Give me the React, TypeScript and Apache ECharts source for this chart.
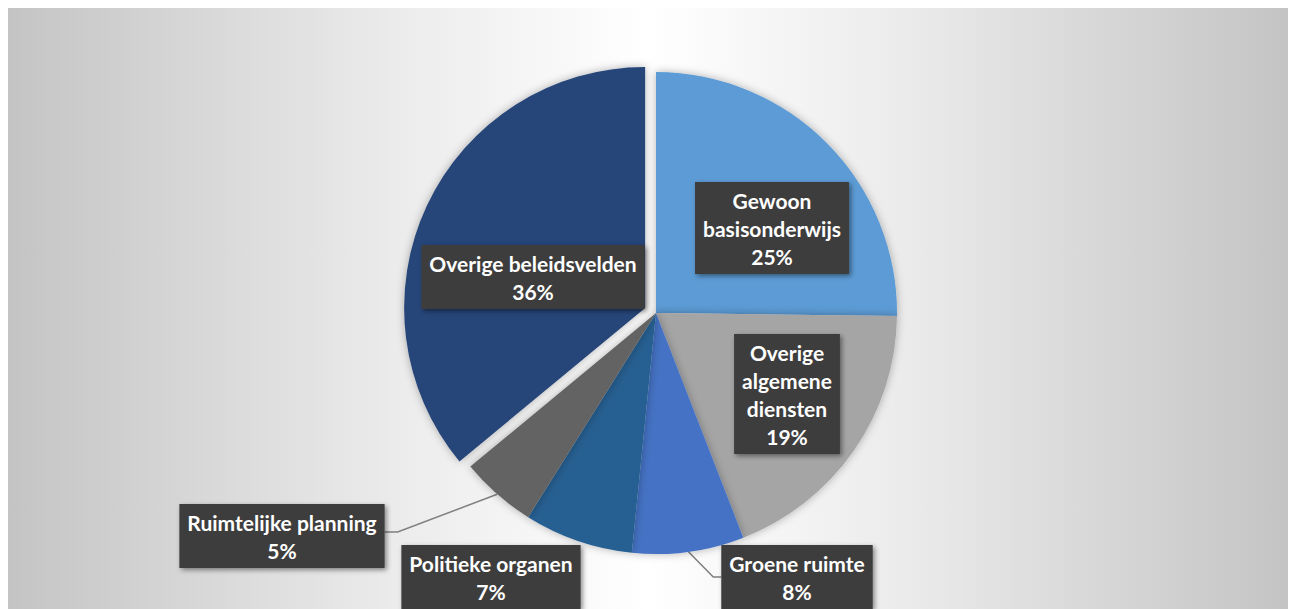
import React, { useEffect, useRef } from "react";
import * as echarts from "echarts";

const categories = [
  "Gewoon basisonderwijs",
  "Overige algemene diensten",
  "Groene ruimte",
  "Politieke organen",
  "Ruimtelijke planning",
  "Overige beleidsvelden",
];
const labelNames = [
  "Gewoon\nbasisonderwijs",
  "Overige\nalgemene\ndiensten",
  "Groene ruimte",
  "Politieke organen",
  "Ruimtelijke planning",
  "Overige beleidsvelden",
];
const values = [25.2, 18.9, 7.5, 7.3, 5.1, 36.0];
const colors = ["#5B9BD5", "#A5A5A5", "#4472C4", "#255E91", "#636363", "#264478"];
const exploded = [false, false, false, false, false, true];

// label anchor positions (layout only)
const labelPos: [number, number][] = [
  [764, 220],
  [779, 386],
  [789, 569],
  [483, 569],
  [274, 528],
  [525, 269],
];
const withLine = [false, false, true, false, true, false];

const CENTER: [number, number] = [648, 305];
const RADIUS = 241;
const EXPLODE = 12;

export default function App() {
  const ref = useRef<HTMLDivElement>(null);
  useEffect(() => {
    document.body.style.overflow = "hidden";
    const chart = echarts.init(ref.current!, null, { renderer: "svg" });

    const total = values.reduce((a, b) => a + b, 0);
    const pct = values.map((v) => Math.round((v / total) * 100));

    let cum = 0;
    let exCenter: [number, number] = CENTER;
    values.forEach((v, i) => {
      const mid = ((cum + v / 2) / total) * Math.PI * 2;
      if (exploded[i]) {
        exCenter = [CENTER[0] + Math.sin(mid) * EXPLODE, CENTER[1] - Math.cos(mid) * EXPLODE];
      }
      cum += v;
    });

    const labelBase = {
      show: true,
      position: "outside",
      formatter: (p: any) => labelNames[p.dataIndex] + "\n" + pct[p.dataIndex] + "%",
      color: "#ffffff",
      fontFamily: "Lato",
      fontWeight: "bold",
      fontSize: 21,
      lineHeight: 28,
      align: "center",
      backgroundColor: "#3e3e3e",
      padding: [4, 8],
      shadowBlur: 5,
      shadowOffsetX: 2,
      shadowOffsetY: 2,
      shadowColor: "rgba(0,0,0,0.45)",
    };

    const labelLayout = (params: any) => {
      const i = params.dataIndex;
      const [x, y] = labelPos[i];
      const res: any = { x, y, align: "center", verticalAlign: "middle" };
      if (withLine[i] && params.labelLinePoints) {
        const edge = params.labelLinePoints[0];
        const w = params.labelRect.width;
        if (x < edge[0]) {
          const end = [x + w / 2, y - 4];
          res.labelLinePoints = [edge, [end[0] + 13, end[1]], end];
        } else {
          const end = [x - w / 2, y];
          res.labelLinePoints = [edge, [end[0] - 8, end[1]], end];
        }
      }
      return res;
    };

    const makeSeries = (showExploded: boolean) => ({
      type: "pie",
      center: showExploded ? exCenter : CENTER,
      radius: RADIUS,
      startAngle: 90,
      clockwise: true,
      avoidLabelOverlap: false,
      silent: true,
      label: labelBase,
      labelLine: {
        show: true,
        lineStyle: { color: "#7f7f7f", width: 1.5 },
      },
      labelLayout,
      data: categories.map((name, i) => {
        const visible = exploded[i] === showExploded;
        return {
          name,
          value: values[i],
          itemStyle: visible
            ? { color: colors[i], shadowBlur: 8, shadowColor: "rgba(0,0,0,0.3)" }
            : { color: "rgba(0,0,0,0)" },
          label: { show: visible },
          labelLine: { show: visible && withLine[i] },
        };
      }),
    });

    const option: any = {
      animation: false,
      backgroundColor: {
        type: "linear",
        x: 0,
        y: 0,
        x2: 1,
        y2: 0,
        colorStops: [
          { offset: 0, color: "#c4c4c4" },
          { offset: 0.3, color: "#ebebeb" },
          { offset: 0.5, color: "#ffffff" },
          { offset: 0.7, color: "#ebebeb" },
          { offset: 1, color: "#c4c4c4" },
        ],
      },
      series: [makeSeries(true), makeSeries(false)],
    };
    chart.setOption(option);
    return () => chart.dispose();
  }, []);
  return <div ref={ref} style={{ width: 1280, height: 601 }} />;
}
